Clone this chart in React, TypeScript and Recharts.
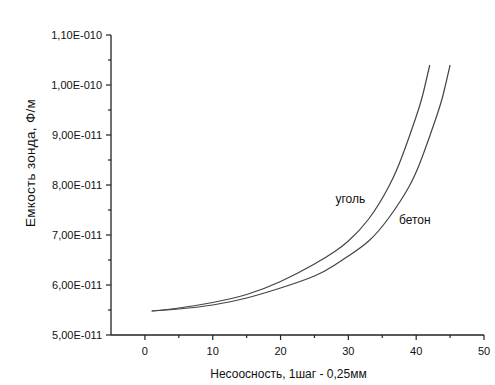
import { LineChart, Line, XAxis, YAxis, ReferenceDot } from "recharts";

// несоосность (шаг) и емкость зонда, Ф/м
const coalX = [1, 5, 10, 15, 20, 25, 28, 30, 33, 36, 38, 40, 41, 42];
const coalY = [5.48e-11, 5.54e-11, 5.65e-11, 5.81e-11, 6.07e-11, 6.42e-11, 6.67e-11, 6.88e-11, 7.32e-11, 7.98e-11, 8.6e-11, 9.37e-11, 9.82e-11, 10.4e-11];

const concreteX = [1, 5, 10, 15, 20, 25, 28, 30, 33, 36, 39, 41, 43, 44, 45];
const concreteY = [5.48e-11, 5.52e-11, 5.6e-11, 5.74e-11, 5.94e-11, 6.18e-11, 6.4e-11, 6.58e-11, 6.88e-11, 7.35e-11, 7.98e-11, 8.6e-11, 9.37e-11, 9.82e-11, 10.4e-11];

const xTicks = [0, 5, 10, 15, 20, 25, 30, 35, 40, 45, 50];
const yTicks = [5, 5.5, 6, 6.5, 7, 7.5, 8, 8.5, 9, 9.5, 10, 10.5, 11].map((v) => v * 1e-11);

const coalLabel = { x: 30.3, y: 7.72e-11, text: "уголь" };
const concreteLabel = { x: 39.8, y: 7.3e-11, text: "бетон" };

const coal = coalX.map((x, i) => ({ x, y: coalY[i] }));
const concrete = concreteX.map((x, i) => ({ x, y: concreteY[i] }));

const FONT = "'Liberation Sans', Arial, sans-serif";

function sci(v: number) {
  const e = Math.floor(Math.log10(v) + 1e-9);
  const m = v / Math.pow(10, e);
  return `${m.toFixed(2).replace(".", ",")}E-${String(-e).padStart(3, "0")}`;
}

function YTick({ x, y, payload }: any) {
  const major = Math.round(payload.value * 2e11) % 2 === 0;
  const ax = x + 9;
  return (
    <g>
      <line x1={ax - (major ? 5 : 3)} x2={ax} y1={y} y2={y} stroke="#222" strokeWidth={1.2} />
      {major && (
        <text x={x} y={y} dy={4} textAnchor="end" fontSize={11} fontFamily={FONT} fill="#111">
          {sci(payload.value)}
        </text>
      )}
    </g>
  );
}

function XTick({ x, y, payload }: any) {
  const major = payload.value % 10 === 0;
  const ay = y - 11;
  return (
    <g>
      <line x1={x} x2={x} y1={ay} y2={ay + (major ? 5 : 3)} stroke="#222" strokeWidth={1.2} />
      {major && (
        <text x={x} y={y} dy={9} textAnchor="middle" fontSize={11} fontFamily={FONT} fill="#111">
          {payload.value}
        </text>
      )}
    </g>
  );
}

export default function App() {
  return (
    <div style={{ position: "absolute", left: 0, top: 0, width: 495, height: 385, background: "#fff" }}>
      <LineChart width={495} height={385} margin={{ top: 35, right: 11, bottom: 0, left: 0 }}>
        <XAxis
          type="number"
          dataKey="x"
          domain={[-5, 50]}
          ticks={xTicks}
          tickSize={5}
          tickMargin={6}
          tickLine={false}
          tick={XTick}
          height={50}
          stroke="#222"
          strokeWidth={1.3}
          label={{ value: "Несоосность, 1шаг - 0,25мм", position: "insideBottom", offset: 7, dx: -9, fontSize: 12, fontFamily: FONT, fill: "#111" }}
        />
        <YAxis
          type="number"
          dataKey="y"
          domain={[5e-11, 1.1e-10]}
          ticks={yTicks}
          tickSize={5}
          tickMargin={4}
          tickLine={false}
          tick={YTick}
          width={111}
          stroke="#222"
          strokeWidth={1.3}
          label={{ value: "Емкость зонда, Ф/м", angle: -90, position: "insideLeft", offset: 30, dy: -22, fontSize: 13.5, letterSpacing: 0.3, fontFamily: FONT, fill: "#111", style: { textAnchor: "middle" } }}
        />
        <Line data={coal} dataKey="y" type="natural" stroke="#444" strokeWidth={1.2} dot={false} isAnimationActive={false} />
        <Line data={concrete} dataKey="y" type="natural" stroke="#444" strokeWidth={1.2} dot={false} isAnimationActive={false} />
        <ReferenceDot x={coalLabel.x} y={coalLabel.y} r={0} label={{ value: coalLabel.text, position: "center", fontSize: 12, fontFamily: FONT, fill: "#111" }} />
        <ReferenceDot x={concreteLabel.x} y={concreteLabel.y} r={0} label={{ value: concreteLabel.text, position: "center", fontSize: 12, fontFamily: FONT, fill: "#111" }} />
      </LineChart>
    </div>
  );
}
